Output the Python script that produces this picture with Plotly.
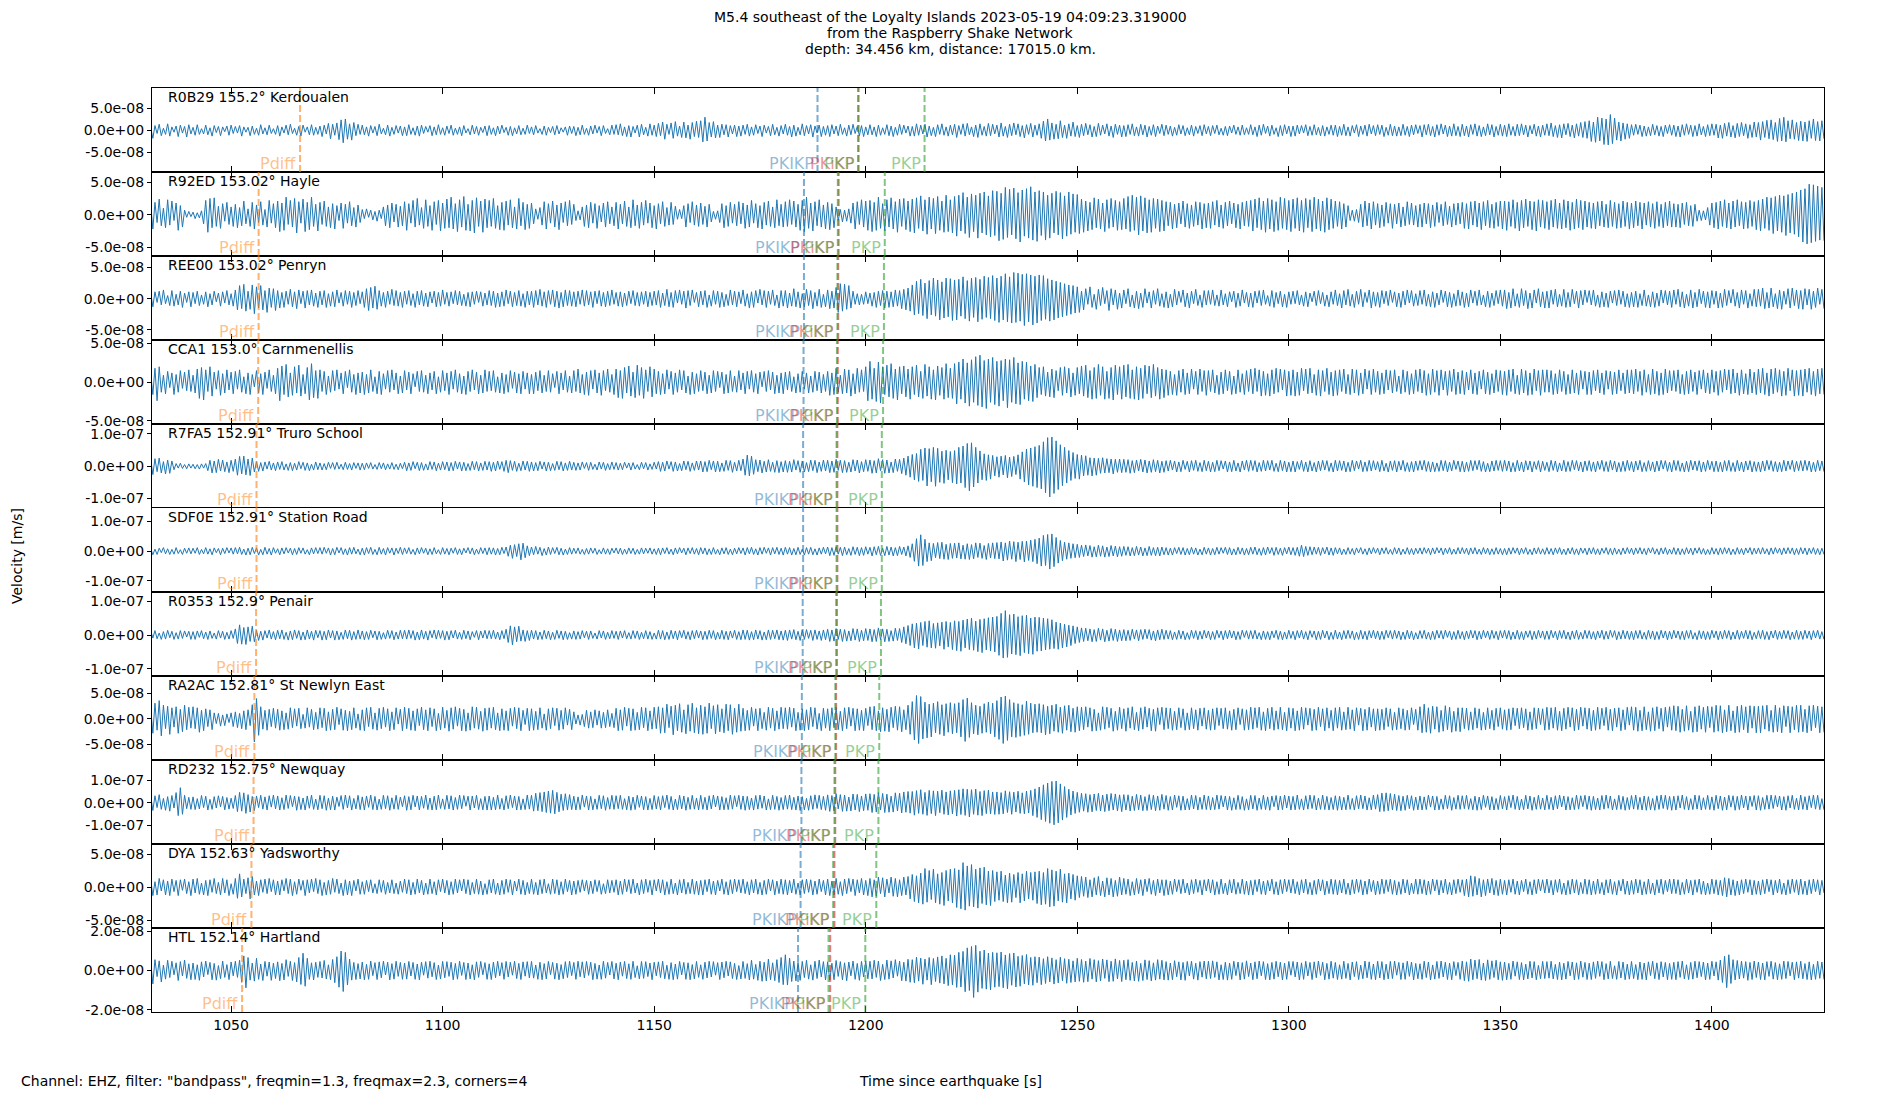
import numpy as np
import plotly.graph_objects as go
from plotly.subplots import make_subplots

# ---------------- data: velocity extrema, every 0.5 s ----------------
T_START = 1031.0   # s since earthquake of the first listed extremum
DT = 0.5           # s between listed extrema

STATIONS = [
    "R0B29 155.2° Kerdoualen", "R92ED 153.02° Hayle", "REE00 153.02° Penryn",
    "CCA1 153.0° Carnmenellis", "R7FA5 152.91° Truro School", "SDF0E 152.91° Station Road",
    "R0353 152.9° Penair", "RA2AC 152.81° St Newlyn East", "RD232 152.75° Newquay",
    "DYA 152.63° Yadsworthy", "HTL 152.14° Hartland",
]

# nm/s
R0B29 = [6,-18,11,-7,14,-12,5,-9,15,-13,8,-4,10,-14,12,-6,9,-15,13,-8,
7,-11,13,-9,4,-8,12,-10,6,-13,11,-5,9,-12,8,-3,10,-11,12,-7,
9,-6,11,-13,8,-4,7,-12,10,-9,5,-11,13,-8,6,-10,12,-7,4,-9,
11,-13,8,-6,12,-10,14,-7,5,-11,9,-13,12,-4,8,-10,13,-11,7,-9,
10,-14,12,-8,16,-19,14,-11,17,-21,24,-28,26,-20,15,-22,18,-12,14,-9,
12,-10,8,-13,11,-6,9,-12,14,-8,5,-10,12,-13,7,-9,11,-6,10,-12,
8,-12,13,-9,6,-11,10,-13,12,-7,9,-4,11,-12,8,-10,13,-9,6,-11,
10,-7,12,-11,5,-9,8,-12,11,-6,4,-10,12,-8,9,-11,7,-5,10,-12,
11,-9,6,-12,10,-8,12,-5,7,-11,9,-12,6,-8,11,-10,5,-9,12,-7,
8,-10,11,-6,4,-9,10,-11,7,-5,9,-10,11,-8,6,-4,8,-11,10,-7,
9,-12,7,-10,12,-9,5,-11,10,-8,12,-6,9,-12,11,-7,4,-10,12,-9,
13,-10,15,-12,8,-14,11,-15,9,-6,12,-15,14,-10,7,-13,15,-11,12,-14,
16,-12,19,-20,14,-9,17,-18,20,-13,10,-16,19,-17,12,-20,18,-14,21,-16,
22,-26,30,-24,18,-15,20,-17,12,-16,14,-10,13,-15,11,-8,12,-14,10,-13,
12,-9,14,-13,8,-11,13,-7,10,-14,12,-6,9,-12,14,-10,7,-13,11,-8,
14,-11,9,-15,12,-13,7,-10,15,-12,11,-8,13,-15,10,-6,12,-14,9,-11,
11,-14,13,-8,10,-12,14,-9,6,-13,12,-10,14,-7,9,-12,11,-14,8,-10,
13,-10,8,-14,12,-11,6,-9,13,-12,10,-14,7,-11,14,-9,12,-6,10,-13,
9,-13,15,-11,12,-8,14,-15,10,-12,7,-14,13,-9,15,-11,8,-13,12,-10,
14,-16,11,-9,15,-13,16,-10,8,-14,12,-16,15,-11,9,-13,16,-12,14,-8,
12,-15,17,-13,9,-16,14,-12,17,-10,15,-14,11,-17,13,-9,16,-15,12,-11,
15,-18,21,-24,26,-22,17,-20,14,-19,22,-16,12,-18,15,-13,19,-14,11,-16,
14,-12,16,-10,13,-15,9,-14,16,-11,12,-8,15,-13,10,-16,14,-9,12,-15,
11,-14,13,-9,15,-12,8,-13,14,-10,12,-15,9,-11,13,-14,10,-7,14,-12,
12,-9,10,-13,7,-11,13,-8,11,-12,6,-10,12,-13,9,-7,11,-12,13,-8,
9,-12,11,-7,12,-10,5,-11,9,-12,10,-6,12,-9,8,-11,12,-10,6,-9,
13,-10,8,-14,12,-11,14,-7,10,-13,12,-9,6,-14,11,-12,13,-8,10,-14,
10,-13,12,-8,11,-6,13,-12,9,-11,13,-10,7,-12,11,-13,8,-9,12,-11,
12,-14,9,-11,14,-12,8,-13,11,-6,13,-14,10,-9,12,-13,14,-8,11,-12,
13,-9,12,-14,7,-11,14,-12,10,-13,8,-12,14,-11,9,-14,12,-10,13,-7,
11,-15,13,-10,14,-12,9,-15,13,-11,15,-8,12,-14,10,-13,15,-12,9,-14,
14,-12,10,-15,13,-9,15,-13,11,-14,8,-12,15,-10,13,-15,9,-11,14,-13,
12,-14,15,-11,9,-13,14,-12,15,-10,12,-15,11,-8,14,-13,10,-15,12,-11,
15,-12,17,-14,11,-16,13,-17,15,-10,16,-14,12,-17,15,-13,18,-16,20,-18,
22,-25,19,-27,30,-24,28,-32,26,-33,36,-30,28,-22,19,-24,17,-20,15,-18,
13,-11,14,-9,12,-14,10,-13,8,-12,14,-10,11,-13,9,-14,12,-7,13,-11,
12,-14,10,-15,13,-11,15,-9,12,-14,11,-13,15,-10,9,-14,13,-12,15,-11,
14,-17,12,-18,16,-13,18,-15,11,-17,16,-14,18,-12,15,-18,13,-16,19,-15,
18,-22,20,-16,23,-19,24,-21,18,-25,27,-24,30,-26,22,-19,24,-20,18,-23,
21,-24,19,-25,22,-18,26,-23,20,-24,22,-19]

R92ED = [15,-22,19,-12,24,-17,10,-20,23,-16,21,-9,18,-24,14,-19,7,-4,5,-3,
4,-6,3,-5,6,-14,22,-27,25,-20,26,-18,13,-21,17,-10,19,-15,12,-18,
16,-20,11,-17,21,-14,9,-18,19,-22,15,-12,20,-16,8,-19,22,-13,17,-20,
21,-26,18,-24,27,-15,22,-19,25,-28,20,-13,24,-26,19,-23,27,-18,16,-25,
19,-15,21,-18,12,-20,17,-22,14,-9,18,-21,16,-13,20,-17,11,-19,15,-12,
8,-6,9,-4,7,-8,5,-10,7,-6,12,-17,15,-20,18,-11,16,-19,13,-17,
20,-24,17,-13,22,-19,25,-16,11,-21,23,-18,14,-24,20,-15,22,-25,18,-21,
24,-20,27,-22,17,-26,23,-19,28,-24,16,-25,22,-28,26,-18,21,-27,24,-20,
22,-18,25,-21,14,-23,19,-24,21,-16,23,-20,12,-22,25,-17,19,-23,16,-21,
18,-14,9,-7,11,-16,20,-22,17,-13,21,-19,15,-23,18,-12,20,-17,22,-15,
16,-9,6,-8,12,-18,15,-20,19,-13,17,-21,14,-11,18,-19,20,-14,12,-17,
19,-22,16,-14,21,-18,12,-20,23,-17,15,-21,19,-16,22,-13,18,-20,14,-22,
17,-14,20,-18,11,-16,19,-15,13,-7,8,-6,14,-19,17,-12,20,-16,15,-18,
18,-15,13,-19,16,-11,5,-7,6,-12,17,-20,14,-18,19,-13,16,-17,20,-14,
18,-21,15,-19,22,-13,17,-20,14,-22,19,-16,21,-18,12,-20,23,-17,16,-19,
20,-18,23,-15,21,-19,16,-24,22,-26,27,-21,18,-25,20,-17,23,-19,15,-22,
19,-23,17,-20,12,-9,8,-11,7,-10,9,-13,18,-22,20,-15,23,-19,21,-24,
22,-26,19,-24,27,-21,17,-25,23,-19,26,-22,20,-27,24,-18,25,-23,21,-26,
24,-28,26,-21,29,-25,23,-30,27,-22,25,-29,28,-24,21,-27,30,-26,23,-28,
28,-33,30,-25,34,-29,27,-35,32,-26,30,-36,33,-28,35,-31,29,-34,37,-32,
36,-40,33,-38,42,-35,39,-31,41,-37,34,-42,38,-33,40,-36,43,-39,35,-41,
37,-32,35,-39,30,-36,33,-28,36,-31,34,-37,29,-33,35,-30,32,-27,31,-29,
24,-27,21,-25,19,-23,26,-20,24,-22,18,-26,23,-21,25,-19,22,-24,20,-23,
25,-22,28,-26,30,-24,27,-31,29,-25,26,-28,23,-27,25,-21,24,-26,22,-25,
20,-17,19,-22,16,-20,18,-14,21,-19,17,-21,15,-18,20,-16,19,-22,17,-20,
18,-21,20,-16,22,-19,15,-21,19,-17,21,-14,18,-20,16,-22,19,-17,21,-18,
22,-25,24,-20,26,-23,21,-27,25,-22,23,-26,20,-24,27,-21,25,-23,22,-26,
24,-21,26,-25,22,-27,25,-20,23,-26,27,-22,24,-25,21,-27,26,-23,24,-21,
21,-18,20,-22,17,-19,14,-9,7,-10,8,-12,16,-19,21,-17,18,-22,20,-16,
17,-20,15,-18,19,-13,17,-21,16,-14,18,-19,12,-17,20,-15,18,-16,14,-19,
16,-19,18,-14,17,-20,15,-18,19,-12,16,-17,20,-15,13,-19,17,-16,18,-14,
19,-21,17,-22,20,-16,21,-19,18,-23,20,-17,22,-20,16,-21,19,-18,21,-22,
21,-24,20,-18,23,-21,19,-25,22,-20,24,-18,21,-23,20,-25,23,-19,22,-21,
20,-23,22,-19,24,-21,18,-22,23,-20,21,-24,19,-22,24,-20,22,-23,21,-19,
19,-21,18,-22,20,-17,21,-19,16,-20,22,-18,19,-21,17,-20,21,-18,19,-22,
18,-20,21,-17,19,-22,18,-16,20,-19,17,-21,20,-18,16,-20,19,-17,21,-19,
17,-19,16,-20,18,-15,19,-17,14,-18,16,-10,7,-9,6,-8,11,-16,18,-20,
19,-22,21,-18,23,-20,18,-22,21,-19,23,-17,20,-22,19,-21,22,-18,20,-23,
22,-25,24,-21,27,-24,26,-29,28,-25,30,-27,29,-32,31,-28,33,-30,35,-34,
38,-42,40,-45,47,-43,46,-41,44,-39,42,-40]

REE00 = [9,-13,11,-6,12,-10,14,-8,5,-11,13,-12,7,-10,12,-14,9,-6,11,-13,
10,-8,12,-11,6,-9,11,-13,8,-10,12,-5,9,-12,11,-7,13,-10,8,-12,
14,-18,21,-16,23,-20,12,-17,22,-24,19,-15,21,-18,13,-22,17,-14,16,-19,
13,-15,10,-14,12,-9,15,-13,11,-16,14,-8,12,-15,13,-10,14,-12,9,-14,
12,-10,13,-14,8,-12,11,-13,14,-7,10,-12,13,-9,12,-14,10,-11,13,-8,
11,-14,16,-19,18,-15,20,-17,13,-12,10,-14,12,-9,15,-11,13,-12,10,-14,
12,-9,13,-11,8,-14,12,-10,13,-12,9,-13,11,-7,12,-13,10,-12,14,-9,
10,-12,11,-8,13,-10,12,-11,7,-12,10,-13,11,-9,12,-6,11,-12,9,-10,
13,-11,12,-14,9,-13,11,-12,14,-8,12,-13,10,-11,13,-12,8,-14,12,-10,
12,-14,13,-10,15,-12,11,-14,13,-9,14,-13,12,-15,10,-13,14,-11,13,-12,
11,-13,12,-9,14,-12,13,-10,11,-14,12,-8,13,-12,10,-13,12,-11,14,-9,
10,-12,11,-13,9,-11,12,-8,13,-11,10,-12,11,-9,12,-13,10,-11,12,-10,
13,-14,9,-11,15,-13,10,-14,13,-7,14,-9,12,-15,13,-11,14,-6,10,-13,
12,-10,13,-14,6,-12,13,-9,12,-14,10,-13,7,-11,14,-10,12,-13,11,-8,
14,-12,8,-15,11,-14,13,-7,15,-10,13,-14,12,-9,14,-11,6,-15,13,-12,
13,-15,9,-12,16,-13,11,-15,8,-13,15,-11,13,-16,10,-12,15,-14,7,-13,
14,-16,12,-15,18,-22,24,-20,23,-17,21,-15,12,-9,8,-10,7,-9,11,-8,
9,-12,10,-14,12,-11,13,-15,12,-14,11,-13,14,-12,13,-16,15,-18,17,-20,
22,-26,28,-24,31,-27,25,-32,29,-26,33,-28,30,-34,27,-31,33,-29,32,-35,
30,-34,31,-28,35,-32,29,-36,33,-30,34,-37,31,-33,36,-30,34,-32,37,-35,
33,-38,36,-34,40,-37,35,-39,42,-38,41,-36,39,-43,40,-37,38,-42,36,-39,
38,-35,37,-33,32,-36,30,-34,28,-31,26,-29,24,-27,22,-25,21,-23,19,-22,
12,-18,16,-9,19,-14,7,-17,15,-11,18,-8,13,-19,16,-10,14,-17,9,-15,
14,-8,16,-13,6,-15,12,-16,9,-14,16,-7,11,-15,13,-9,16,-12,8,-14,
11,-15,7,-13,15,-10,12,-6,14,-13,9,-15,12,-8,15,-11,6,-14,13,-10,
13,-9,14,-11,6,-12,14,-10,8,-13,11,-5,12,-14,9,-12,14,-7,10,-13,
9,-14,12,-7,13,-11,14,-9,5,-12,13,-14,10,-8,12,-13,7,-14,11,-9,
12,-8,13,-10,6,-12,11,-13,9,-5,12,-11,13,-8,10,-12,6,-13,11,-9,
14,-11,8,-15,13,-10,15,-12,7,-14,12,-9,15,-13,10,-6,14,-15,11,-12,
10,-14,13,-8,12,-11,14,-6,11,-13,9,-14,12,-10,14,-7,13,-12,8,-11,
13,-9,14,-12,7,-13,11,-14,9,-10,14,-6,12,-13,10,-14,8,-12,14,-11,
11,-14,9,-13,14,-7,12,-11,14,-10,6,-13,12,-14,9,-11,13,-8,14,-12,
14,-16,10,-15,16,-12,8,-14,16,-11,13,-16,9,-15,14,-7,16,-13,11,-15,
12,-15,14,-9,15,-13,7,-12,15,-14,10,-13,15,-8,12,-15,13,-10,14,-6,
13,-10,14,-12,6,-14,11,-13,9,-14,12,-7,13,-11,14,-9,12,-13,8,-14,
10,-13,12,-14,8,-11,14,-12,6,-13,11,-14,9,-12,14,-7,13,-10,12,-14,
14,-9,15,-13,11,-15,7,-12,14,-15,10,-13,15,-8,12,-14,11,-15,13,-9,
12,-15,9,-14,15,-11,13,-7,15,-12,10,-15,14,-9,13,-15,8,-12,15,-13,
15,-12,17,-16,10,-15,17,-13,8,-16,14,-17,12,-9,16,-15,17,-11,14,-16,
13,-17,16,-10,15,-17,12,-14,17,-9,15,-16]

CCA1 = [11,-16,18,-24,20,-13,9,-15,14,-7,12,-16,10,-13,15,-8,13,-11,16,-12,
9,-14,17,-21,19,-23,16,-12,20,-18,13,-9,15,-17,11,-14,16,-10,13,-15,
14,-9,16,-13,7,-15,12,-16,10,-6,15,-14,11,-16,13,-8,16,-12,9,-15,
18,-24,21,-16,23,-19,12,-17,20,-14,22,-18,10,-15,19,-23,24,-20,15,-21,
16,-12,14,-16,8,-13,15,-11,16,-9,12,-15,14,-7,16,-13,10,-16,12,-14,
13,-16,10,-14,16,-12,7,-15,14,-16,11,-9,15,-13,16,-10,12,-15,8,-14,
15,-10,13,-15,11,-6,14,-12,15,-13,9,-15,12,-10,14,-15,7,-13,15,-11,
12,-16,14,-9,16,-13,11,-15,8,-16,14,-12,16,-10,13,-15,9,-14,16,-12,
14,-11,15,-13,7,-14,12,-15,10,-13,15,-8,13,-14,11,-15,14,-9,12,-15,
10,-15,13,-11,15,-14,9,-12,15,-13,11,-7,14,-15,12,-10,15,-13,8,-14,
15,-12,17,-14,10,-16,13,-17,15,-9,16,-14,12,-17,15,-11,17,-13,10,-16,
17,-20,15,-21,19,-14,21,-18,13,-20,22,-17,19,-21,16,-12,20,-19,17,-15,
14,-16,11,-15,16,-9,14,-16,12,-13,16,-10,15,-14,8,-16,13,-15,11,-12,
15,-11,13,-15,9,-14,15,-12,14,-7,13,-15,10,-14,15,-12,8,-13,15,-10,
12,-15,14,-9,15,-13,11,-15,13,-6,14,-12,15,-10,13,-15,9,-14,12,-15,
13,-10,14,-12,7,-14,11,-13,14,-9,12,-14,8,-13,14,-11,13,-14,10,-12,
14,-17,12,-16,18,-13,9,-15,17,-14,16,-18,11,-15,18,-13,16,-12,20,-24,
27,-22,18,-25,26,-27,20,-16,22,-19,24,-21,17,-23,20,-15,21,-19,17,-22,
20,-16,22,-19,14,-21,23,-18,20,-22,16,-23,21,-17,19,-22,24,-20,18,-21,
24,-28,26,-22,30,-27,25,-31,29,-26,33,-30,35,-32,28,-34,30,-26,32,-29,
27,-31,28,-24,30,-33,29,-26,32,-28,25,-29,27,-22,26,-24,21,-25,23,-20,
19,-16,20,-18,13,-19,17,-20,15,-11,19,-17,20,-14,18,-19,12,-17,19,-15,
21,-18,22,-20,15,-22,19,-21,23,-17,20,-22,14,-21,19,-23,22,-16,20,-22,
22,-19,23,-21,16,-22,20,-23,18,-21,22,-15,21,-20,23,-18,19,-22,17,-20,
16,-17,14,-16,10,-17,15,-13,17,-16,12,-15,17,-9,14,-16,17,-12,15,-17,
15,-12,16,-14,9,-16,13,-15,16,-11,14,-16,8,-15,16,-13,11,-16,15,-12,
17,-15,18,-12,16,-18,14,-17,11,-18,16,-15,18,-13,17,-10,16,-18,14,-17,
16,-18,13,-17,18,-11,17,-15,18,-14,10,-17,16,-18,15,-12,18,-16,13,-18,
15,-17,16,-12,17,-15,10,-16,17,-14,16,-17,12,-15,17,-9,15,-16,17,-13,
14,-16,12,-15,16,-10,15,-14,16,-12,8,-15,16,-13,14,-16,11,-15,16,-12,
17,-14,15,-17,11,-16,17,-13,15,-17,16,-10,14,-17,15,-12,17,-16,13,-15,
15,-16,13,-10,16,-15,12,-16,14,-9,16,-15,13,-16,11,-14,16,-12,15,-16,
14,-17,16,-12,17,-15,9,-16,17,-14,15,-17,12,-16,17,-11,15,-17,16,-13,
16,-13,15,-16,11,-15,16,-12,14,-16,10,-15,16,-14,12,-16,15,-9,14,-16,
13,-16,15,-11,16,-14,12,-16,15,-9,14,-16,13,-15,16,-11,12,-15,16,-14,
16,-15,17,-12,14,-17,16,-13,10,-16,17,-15,14,-17,12,-16,17,-14,15,-11,
15,-12,16,-15,10,-16,14,-15,16,-12,13,-16,15,-9,16,-14,12,-15,16,-13,
14,-17,15,-13,17,-10,16,-15,17,-14,12,-17,16,-15,11,-16,17,-14,13,-16,
17,-14,18,-16,12,-18,17,-15,18,-13,16,-18,14,-17,18,-11,16,-18,15,-17,
16,-18,17,-13,18,-16,14,-18,17,-15,18,-16]

R7FA5 = [20,-26,23,-17,25,-21,14,-24,19,-22,16,-11,8,-6,9,-7,5,-8,7,-6,
6,-8,5,-9,7,-6,8,-14,18,-21,16,-20,21,-15,19,-17,13,-20,18,-16,
22,-28,30,-24,31,-27,22,-29,25,-18,14,-16,11,-15,13,-9,15,-12,10,-14,
13,-10,14,-12,7,-13,11,-14,9,-12,14,-8,12,-13,10,-14,6,-12,13,-11,
10,-12,8,-11,12,-7,11,-10,12,-9,6,-11,12,-10,8,-12,11,-7,10,-12,
9,-11,10,-7,11,-9,5,-10,11,-8,10,-11,7,-9,11,-10,6,-11,9,-8,
12,-14,10,-13,14,-8,12,-14,11,-13,7,-12,14,-10,13,-14,9,-12,14,-11,
13,-15,11,-14,15,-9,13,-15,12,-14,8,-13,15,-11,14,-15,10,-13,15,-12,
14,-16,12,-15,16,-10,14,-16,18,-20,17,-13,15,-16,9,-14,16,-12,15,-16,
13,-15,11,-14,15,-9,13,-15,12,-14,8,-13,15,-11,14,-15,10,-13,15,-12,
12,-13,10,-12,13,-7,11,-13,12,-10,6,-12,13,-9,12,-13,8,-11,13,-10,
11,-12,9,-11,12,-6,10,-12,11,-9,5,-11,12,-8,11,-12,7,-10,12,-9,
14,-16,12,-15,16,-9,14,-16,13,-15,8,-14,16,-11,15,-16,10,-13,16,-12,
16,-18,14,-17,18,-11,16,-18,15,-17,10,-16,18,-13,17,-19,12,-15,18,-14,
22,-28,34,-30,31,-25,20,-17,19,-21,15,-18,20,-16,12,-19,17,-20,14,-18,
17,-19,15,-18,20,-12,17,-19,16,-18,11,-17,19,-14,18,-20,13,-16,19,-15,
18,-20,16,-19,21,-13,18,-20,17,-19,12,-18,20,-15,19,-21,14,-17,20,-16,
19,-22,17,-21,23,-14,20,-22,19,-21,13,-20,22,-16,21,-23,25,-28,31,-34,
36,-42,39,-47,52,-44,56,-61,54,-48,58,-62,55,-50,46,-53,49,-42,45,-51,
48,-55,58,-52,62,-66,70,-76,72,-64,58,-52,47,-42,38,-44,35,-40,33,-30,
29,-34,31,-27,33,-36,28,-32,30,-26,35,-40,44,-49,53,-58,56,-62,60,-66,
64,-70,75,-82,88,-95,90,-84,78,-72,66,-60,58,-52,48,-44,42,-38,36,-40,
34,-30,32,-28,26,-30,25,-28,24,-22,26,-21,23,-20,22,-24,21,-19,22,-20,
21,-19,20,-22,17,-20,19,-15,21,-18,19,-21,16,-19,20,-17,18,-21,15,-19,
17,-15,18,-12,16,-18,13,-17,18,-10,15,-18,17,-13,18,-16,11,-17,18,-14,
15,-18,12,-17,18,-14,17,-9,16,-18,13,-17,18,-15,10,-18,16,-12,18,-16,
18,-13,17,-18,11,-16,18,-15,17,-12,18,-16,9,-17,18,-14,16,-18,12,-17,
16,-18,14,-10,18,-16,13,-18,17,-15,11,-18,16,-14,18,-12,17,-16,10,-18,
18,-15,17,-13,16,-18,12,-17,18,-14,16,-9,18,-17,13,-16,18,-15,17,-12,
14,-17,18,-15,9,-18,16,-13,17,-18,15,-12,18,-16,11,-17,14,-18,16,-13,
17,-12,18,-16,14,-18,13,-17,10,-16,18,-14,17,-18,12,-15,18,-10,16,-17,
15,-18,12,-16,18,-14,17,-11,18,-16,14,-18,9,-17,16,-15,18,-13,17,-16,
18,-14,16,-18,11,-17,18,-15,13,-18,17,-12,16,-18,14,-10,17,-18,15,-13,
12,-17,18,-13,16,-18,10,-15,18,-17,14,-16,18,-11,17,-15,13,-18,16,-14,
17,-16,13,-18,15,-10,18,-16,14,-17,18,-12,16,-18,11,-17,15,-16,18,-13,
14,-18,16,-12,18,-17,11,-16,17,-14,13,-18,16,-15,18,-9,17,-16,12,-18,
18,-13,17,-16,10,-18,15,-17,18,-12,16,-14,17,-18,13,-16,18,-11,15,-17,
16,-17,12,-18,17,-14,18,-16,11,-17,18,-15,13,-18,16,-12,17,-18,14,-16,
13,-18,16,-15,18,-11,17,-16,14,-18,12,-17,18,-15,16,-10,18,-17,15,-14,
17,-15,18,-13,16,-18,12,-17,18,-14,16,-17]

SDF0E = [9,-12,7,-11,10,-5,12,-9,8,-11,6,-10,12,-8,5,-11,10,-7,11,-9,
10,-7,12,-11,6,-9,12,-10,8,-12,11,-5,9,-12,10,-8,12,-6,11,-10,
12,-9,13,-11,7,-13,10,-12,13,-8,11,-13,6,-12,13,-10,9,-13,12,-7,
8,-12,11,-9,12,-6,10,-12,9,-11,12,-7,11,-10,5,-12,11,-9,12,-8,
12,-10,13,-7,11,-13,9,-12,13,-6,12,-11,8,-13,12,-10,13,-9,7,-12,
10,-13,12,-8,13,-11,6,-12,13,-10,9,-13,12,-7,11,-13,10,-8,13,-11,
11,-8,12,-10,6,-12,11,-9,12,-7,10,-12,8,-11,12,-9,5,-11,12,-10,
9,-12,10,-7,12,-11,8,-12,10,-6,12,-9,11,-12,7,-10,12,-8,11,-12,
12,-10,11,-13,9,-12,13,-8,14,-17,20,-24,22,-18,25,-29,27,-22,18,-15,
14,-12,16,-10,13,-15,9,-13,14,-11,12,-8,13,-12,10,-13,7,-11,12,-10,
10,-8,11,-10,6,-11,9,-10,11,-7,10,-11,5,-9,11,-10,8,-11,10,-6,
11,-9,10,-11,7,-10,11,-8,10,-11,6,-10,11,-9,10,-7,11,-10,8,-11,
10,-12,11,-8,12,-10,7,-12,11,-9,12,-6,10,-12,11,-8,12,-10,9,-12,
12,-9,11,-12,8,-11,12,-10,6,-12,11,-9,12,-11,7,-12,10,-9,12,-8,
11,-13,12,-9,13,-11,8,-13,12,-10,13,-7,11,-13,12,-9,13,-11,10,-13,
13,-10,12,-13,9,-12,13,-11,7,-13,12,-10,13,-12,8,-13,11,-10,13,-9,
14,-15,12,-14,15,-10,13,-15,14,-12,9,-14,15,-11,13,-15,12,-14,15,-10,
13,-16,15,-12,16,-14,10,-15,16,-13,14,-16,12,-15,16,-11,14,-16,18,-21,
25,-34,42,-50,55,-48,40,-35,28,-32,26,-22,29,-25,30,-27,23,-28,26,-24,
27,-23,28,-26,20,-27,25,-28,22,-26,28,-21,27,-24,19,-28,26,-23,28,-25,
29,-26,31,-33,28,-30,34,-27,32,-35,30,-28,33,-36,34,-31,37,-35,40,-42,
44,-50,53,-48,56,-60,58,-52,46,-40,36,-32,30,-27,28,-24,25,-22,23,-21,
20,-18,21,-16,19,-20,15,-19,20,-17,18,-20,14,-18,19,-16,17,-19,15,-17,
16,-14,15,-16,12,-15,16,-13,14,-16,11,-15,16,-14,12,-15,13,-16,14,-12,
12,-13,10,-13,12,-8,13,-11,12,-13,9,-12,13,-10,11,-13,7,-12,13,-10,
11,-13,9,-12,13,-10,12,-7,13,-11,12,-13,8,-12,13,-10,11,-13,9,-12,
13,-10,14,-12,9,-14,12,-13,14,-8,12,-14,13,-11,10,-14,12,-9,14,-12,
12,-14,13,-17,20,-18,16,-14,15,-12,14,-10,13,-14,12,-9,14,-13,11,-14,
12,-9,11,-12,7,-11,12,-10,9,-12,11,-6,12,-10,8,-12,11,-9,12,-7,
10,-12,11,-8,12,-10,6,-11,12,-9,11,-12,7,-10,12,-11,9,-12,10,-8,
11,-10,12,-7,10,-12,11,-9,12,-6,11,-12,10,-8,12,-11,7,-10,12,-9,
12,-8,10,-12,11,-9,12,-10,7,-11,12,-9,10,-12,8,-11,12,-10,9,-12,
9,-12,11,-10,12,-7,11,-12,10,-8,12,-11,6,-12,11,-9,12,-10,8,-11,
12,-10,9,-12,11,-8,12,-11,7,-12,10,-9,12,-11,8,-12,11,-7,10,-12,
11,-9,12,-11,8,-12,10,-7,12,-11,9,-12,11,-10,7,-12,11,-9,12,-8,
10,-12,11,-8,12,-10,9,-12,11,-6,12,-10,8,-12,11,-9,12,-11,7,-10,
12,-11,10,-12,8,-11,12,-9,10,-12,11,-7,12,-10,9,-12,6,-11,12,-10,
9,-12,11,-10,12,-8,11,-12,7,-11,12,-10,9,-12,11,-6,12,-11,10,-9,
11,-10,12,-9,8,-12,11,-10,12,-7,10,-12,11,-9,12,-8,11,-12,9,-11,
12,-9,11,-12,10,-8,12,-11,9,-12,10,-11]

R0353 = [12,-9,13,-11,6,-13,10,-12,14,-8,11,-13,7,-12,13,-10,12,-6,11,-13,
10,-13,12,-7,13,-11,9,-13,12,-10,6,-12,13,-9,11,-13,8,-12,13,-10,
18,-25,30,-27,22,-28,24,-19,26,-20,14,-16,11,-15,13,-9,15,-12,10,-14,
14,-11,15,-13,8,-15,12,-14,15,-10,13,-15,9,-14,15,-12,11,-15,14,-8,
13,-15,11,-14,15,-9,13,-15,12,-14,8,-13,15,-11,14,-15,10,-13,15,-12,
12,-14,10,-13,14,-8,12,-14,11,-13,7,-12,14,-10,13,-14,9,-12,14,-11,
14,-12,15,-10,13,-15,9,-14,15,-12,11,-15,13,-8,15,-12,14,-10,13,-15,
11,-14,13,-9,14,-12,8,-13,14,-11,12,-14,10,-7,13,-14,12,-9,14,-11,
13,-11,14,-12,9,-14,13,-11,17,-22,27,-29,24,-20,26,-18,15,-19,13,-16,
14,-12,13,-14,9,-13,14,-11,12,-14,8,-13,14,-10,12,-14,11,-13,7,-12,
12,-13,10,-12,13,-8,11,-13,12,-10,6,-12,13,-9,12,-13,8,-11,13,-10,
11,-13,12,-9,13,-11,7,-12,13,-10,12,-13,8,-11,13,-12,10,-13,6,-12,
14,-12,13,-14,9,-13,14,-11,12,-14,13,-8,14,-12,10,-14,13,-11,14,-9,
12,-14,11,-13,14,-10,13,-14,8,-12,14,-13,11,-14,12,-9,14,-13,10,-14,
15,-13,14,-15,10,-14,15,-12,13,-15,9,-14,15,-13,14,-11,15,-14,12,-15,
14,-16,15,-12,16,-14,11,-16,15,-13,16,-10,14,-16,15,-13,12,-16,15,-14,
17,-19,15,-18,19,-13,17,-19,16,-18,12,-17,19,-15,18,-19,14,-17,19,-16,
18,-20,16,-19,21,-14,18,-20,17,-19,13,-18,20,-16,19,-22,24,-26,28,-31,
33,-38,35,-41,37,-31,40,-36,42,-38,34,-39,36,-32,38,-42,40,-35,37,-43,
42,-46,40,-48,44,-38,47,-43,50,-45,41,-49,46,-52,48,-44,51,-47,53,-50,
55,-60,64,-68,72,-66,60,-56,62,-58,54,-61,57,-52,59,-55,50,-57,53,-48,
52,-47,50,-44,48,-42,45,-40,38,-42,35,-38,32,-35,29,-31,27,-25,24,-22,
21,-19,20,-17,18,-20,16,-19,20,-15,18,-20,14,-18,19,-16,17,-19,15,-17,
16,-17,14,-16,17,-12,15,-17,16,-13,17,-11,16,-15,12,-17,15,-14,17,-13,
14,-12,13,-14,9,-13,14,-11,12,-14,7,-13,14,-10,13,-14,11,-12,14,-9,
12,-14,10,-13,14,-8,12,-14,13,-11,14,-9,12,-14,10,-13,14,-7,13,-12,
13,-11,14,-12,7,-14,12,-13,10,-14,12,-8,14,-13,11,-14,9,-12,14,-10,
11,-14,13,-9,14,-12,10,-14,13,-7,12,-14,11,-13,14,-9,12,-14,8,-13,
14,-12,9,-14,13,-11,14,-10,12,-14,8,-13,14,-12,11,-14,13,-9,14,-11,
12,-14,11,-13,14,-8,13,-12,14,-10,12,-14,9,-13,14,-11,12,-14,7,-12,
13,-10,14,-12,8,-14,11,-13,14,-9,13,-12,14,-7,12,-14,10,-13,14,-11,
10,-14,12,-11,14,-9,13,-14,11,-12,14,-8,12,-13,14,-10,11,-14,13,-9,
14,-11,13,-14,9,-12,14,-13,10,-14,12,-7,13,-14,11,-12,14,-9,12,-13,
12,-13,14,-8,11,-14,13,-10,14,-12,9,-14,12,-11,14,-13,8,-12,14,-10,
13,-12,10,-14,12,-9,14,-13,11,-12,14,-7,13,-14,10,-12,14,-11,12,-13,
11,-14,13,-10,14,-12,8,-13,14,-11,12,-14,10,-13,14,-9,12,-14,11,-12,
14,-9,12,-13,11,-14,13,-10,14,-12,7,-14,13,-11,12,-14,10,-13,14,-8,
12,-14,11,-12,14,-10,13,-14,9,-12,14,-13,11,-10,14,-12,13,-14,8,-11,
13,-11,14,-13,10,-14,12,-9,14,-13,11,-12,14,-10,13,-14,9,-12,14,-13,
11,-13,14,-10,12,-14,13,-9,14,-12,10,-13]

RA2AC = [20,-28,31,-22,36,-33,27,-19,25,-30,22,-16,24,-28,19,-25,27,-21,23,-18,
24,-19,22,-26,17,-23,20,-15,18,-21,12,-9,11,-14,8,-13,10,-7,12,-15,
14,-17,11,-19,16,-21,18,-13,28,-45,40,-32,24,-20,17,-22,19,-15,21,-18,
19,-22,16,-21,12,-20,22,-17,20,-14,21,-19,9,-18,22,-16,19,-21,13,-20,
22,-17,21,-23,14,-22,19,-21,23,-11,20,-22,17,-23,15,-21,22,-18,10,-22,
18,-23,22,-15,23,-20,12,-22,21,-19,23,-16,20,-23,14,-21,22,-10,19,-23,
23,-19,21,-22,16,-23,20,-13,23,-21,18,-23,22,-15,20,-23,11,-21,23,-18,
17,-24,22,-20,24,-14,21,-23,19,-24,12,-22,24,-18,23,-20,15,-24,21,-22,
22,-18,23,-21,12,-23,20,-22,16,-23,21,-14,23,-19,22,-23,17,-11,21,-23,
20,-22,15,-21,22,-18,10,-22,20,-19,22,-13,21,-22,17,-20,22,-12,19,-21,
14,-10,8,-12,9,-15,17,-18,14,-17,18,-12,16,-18,13,-17,18,-15,11,-17,
21,-23,18,-22,23,-14,21,-23,20,-22,13,-21,23,-17,22,-23,16,-20,23,-19,
24,-28,22,-27,29,-17,25,-31,27,-23,30,-26,18,-29,28,-24,31,-27,22,-29,
27,-30,24,-28,31,-19,26,-29,28,-25,20,-27,29,-23,28,-30,21,-26,29,-24,
21,-23,17,-22,23,-14,20,-23,21,-19,13,-22,23,-18,21,-23,16,-20,23,-19,
22,-20,23,-16,21,-23,13,-22,20,-23,18,-21,23,-15,22,-20,11,-23,21,-18,
20,-23,22,-17,23,-21,15,-23,22,-19,23,-14,21,-23,20,-22,17,-23,21,-13,
24,-21,25,-23,16,-25,22,-24,19,-25,23,-17,25,-22,24,-25,18,-21,27,-30,
34,-41,46,-48,44,-39,33,-37,29,-35,31,-27,34,-30,28,-33,30,-26,32,-29,
30,-27,32,-35,38,-44,41,-36,32,-29,27,-31,25,-28,30,-26,33,-29,31,-35,
36,-40,43,-48,45,-42,38,-35,32,-36,30,-34,28,-32,35,-30,31,-27,29,-26,
30,-27,28,-31,25,-29,27,-24,29,-26,23,-28,26,-22,27,-25,21,-26,24,-23,
23,-21,24,-16,22,-24,19,-23,12,-22,24,-20,23,-17,21,-24,15,-22,23,-19,
20,-24,22,-18,24,-21,13,-23,22,-20,24,-16,21,-23,19,-24,22,-11,23,-21,
22,-19,21,-22,15,-21,22,-17,20,-22,12,-21,22,-19,18,-22,21,-14,22,-20,
17,-22,20,-21,22,-13,21,-19,22,-20,16,-22,19,-21,22,-11,20,-22,18,-21,
23,-20,22,-17,23,-22,14,-23,21,-19,23,-22,16,-20,23,-21,13,-23,22,-18,
21,-23,16,-22,23,-20,22,-12,21,-23,19,-22,23,-15,20,-23,22,-18,17,-23,
22,-18,23,-22,14,-21,23,-20,18,-23,22,-12,21,-23,19,-22,23,-16,20,-23,
20,-22,19,-21,22,-15,20,-22,13,-21,22,-19,20,-22,17,-21,22,-11,19,-22,
24,-27,29,-26,22,-28,25,-20,24,-26,17,-24,26,-21,23,-26,15,-24,22,-25,
22,-19,21,-22,14,-21,22,-18,20,-22,13,-21,22,-19,17,-22,21,-15,22,-20,
18,-22,20,-21,22,-13,21,-19,22,-17,20,-22,14,-21,22,-19,21,-11,20,-22,
23,-21,22,-18,23,-22,15,-23,21,-20,23,-16,22,-23,19,-21,23,-14,22,-20,
21,-23,17,-22,23,-20,21,-13,23,-22,19,-23,21,-16,22,-23,18,-21,23,-12,
24,-22,23,-24,17,-23,24,-21,14,-24,22,-23,24,-19,21,-24,23,-16,24,-22,
26,-23,25,-26,19,-24,26,-22,15,-26,24,-25,26,-20,23,-26,25,-17,24,-26,
27,-24,26,-27,18,-25,27,-23,16,-27,25,-26,27,-21,24,-27,26,-18,25,-27,
25,-27,26,-20,27,-24,17,-26,27,-25,22,-27,26,-15,25,-27,24,-21,27,-26,
27,-25,19,-27,26,-23,27,-17,25,-27,24,-26]

RD232 = [28,-35,31,-22,36,-30,19,-34,27,-38,32,-24,45,-58,67,-52,33,-27,24,-30,
26,-31,18,-28,32,-22,29,-33,15,-30,27,-24,31,-19,28,-32,23,-29,20,-26,
32,-40,46,-38,44,-48,36,-42,28,-35,30,-22,33,-29,26,-33,31,-20,34,-28,
30,-33,22,-31,34,-26,32,-18,29,-34,27,-31,21,-33,30,-25,34,-30,16,-32,
33,-27,31,-34,20,-32,29,-33,25,-17,32,-30,34,-24,31,-33,19,-28,33,-31,
26,-33,30,-21,34,-31,28,-33,16,-30,33,-27,31,-34,22,-29,33,-30,25,-18,
31,-34,27,-32,33,-19,30,-33,28,-25,34,-31,21,-33,29,-32,34,-26,17,-30,
33,-28,31,-33,23,-30,34,-27,32,-16,29,-33,30,-24,33,-31,18,-32,28,-33,
30,-33,24,-32,34,-29,19,-33,31,-27,34,-22,30,-33,28,-32,17,-31,34,-29,
33,-38,42,-36,45,-40,48,-44,52,-47,55,-50,46,-41,38,-35,40,-33,36,-31,
29,-33,26,-31,34,-20,30,-33,28,-32,17,-30,33,-27,31,-34,23,-29,33,-30,
31,-27,33,-30,18,-32,29,-34,25,-31,33,-21,30,-32,27,-33,19,-31,32,-28,
27,-33,31,-22,34,-30,28,-33,16,-31,33,-28,30,-34,24,-30,33,-29,21,-32,
33,-30,24,-33,31,-28,34,-19,30,-33,27,-32,22,-31,34,-29,31,-18,33,-30,
30,-34,28,-31,21,-33,32,-29,34,-25,30,-33,17,-31,33,-30,28,-34,23,-31,
32,-29,34,-31,24,-33,30,-35,27,-32,19,-34,31,-30,35,-26,33,-31,28,-34,
35,-39,32,-37,40,-28,36,-39,34,-38,25,-37,39,-33,37,-40,30,-36,39,-34,
40,-44,37,-42,45,-33,41,-44,38,-43,29,-42,44,-37,42,-46,48,-43,50,-47,
50,-56,54,-48,58,-52,46,-57,55,-49,53,-58,51,-45,56,-52,48,-55,53,-50,
55,-60,58,-53,62,-57,60,-64,58,-52,61,-56,50,-58,54,-49,56,-51,48,-53,
48,-52,45,-50,53,-44,49,-52,47,-42,51,-48,44,-50,52,-46,55,-58,62,-66,
70,-76,80,-84,88,-92,95,-99,97,-90,84,-78,72,-66,60,-55,52,-48,46,-43,
42,-38,40,-43,36,-41,39,-35,42,-37,34,-40,38,-36,41,-33,39,-37,35,-40,
36,-33,35,-37,29,-35,37,-32,34,-36,27,-35,36,-31,33,-36,30,-34,37,-29,
32,-34,27,-33,34,-21,31,-34,29,-33,18,-32,34,-28,32,-33,24,-30,34,-31,
30,-33,23,-31,34,-29,32,-19,30,-33,28,-34,22,-31,33,-30,27,-34,17,-32,
33,-28,32,-34,21,-30,33,-31,26,-34,30,-18,32,-33,29,-31,34,-24,30,-33,
28,-32,34,-30,17,-33,31,-29,34,-26,32,-33,20,-30,34,-31,28,-33,23,-31,
31,-34,29,-33,24,-32,34,-30,19,-33,31,-28,34,-27,30,-33,22,-32,34,-29,
36,-40,43,-39,44,-36,41,-33,38,-35,32,-36,29,-34,33,-27,31,-34,25,-32,
30,-33,26,-31,34,-20,30,-33,28,-32,17,-30,33,-27,31,-34,23,-29,33,-30,
31,-27,33,-30,18,-32,29,-34,25,-31,33,-21,30,-32,27,-33,19,-31,32,-28,
27,-33,31,-22,34,-30,28,-33,16,-31,33,-28,30,-34,24,-30,33,-29,21,-32,
33,-30,24,-33,31,-28,34,-19,30,-33,27,-32,22,-31,34,-29,31,-18,33,-30,
30,-34,28,-31,21,-33,32,-29,34,-25,30,-33,17,-31,33,-30,28,-34,23,-31,
32,-29,34,-31,24,-33,30,-34,27,-32,19,-34,31,-30,34,-26,33,-31,28,-34,
29,-33,31,-24,34,-30,27,-33,18,-31,34,-29,32,-33,22,-30,33,-31,26,-34,
33,-27,30,-34,25,-32,33,-20,31,-34,28,-31,34,-23,30,-33,29,-17,32,-33,
31,-34,23,-30,33,-29,34,-26,32,-19,30,-33,27,-34,31,-24,33,-30,20,-32,
34,-30,27,-33,31,-22,34,-29,33,-31,18,-32]

DYA = [10,-13,8,-12,13,-6,11,-12,9,-13,12,-7,10,-13,11,-5,12,-10,8,-13,
12,-9,13,-11,6,-12,10,-13,11,-8,13,-10,7,-12,13,-9,11,-13,5,-11,
13,-17,20,-15,12,-10,14,-18,16,-12,9,-13,11,-8,12,-10,13,-7,11,-12,
9,-12,11,-6,13,-10,12,-13,8,-11,12,-5,10,-13,11,-9,12,-7,13,-10,
11,-13,7,-12,10,-11,13,-8,12,-10,6,-13,11,-12,9,-13,10,-6,12,-11,
8,-11,10,-7,11,-9,5,-10,11,-8,10,-11,7,-9,11,-10,6,-11,9,-8,
12,-10,11,-12,7,-11,12,-9,10,-12,6,-11,12,-10,8,-12,11,-7,12,-9,
10,-12,8,-11,12,-9,11,-6,12,-10,11,-12,7,-10,12,-11,9,-12,5,-11,
11,-9,12,-11,6,-12,10,-11,12,-8,11,-12,9,-6,12,-11,10,-12,7,-10,
12,-11,7,-12,11,-10,12,-9,5,-11,12,-10,11,-12,8,-11,12,-7,10,-12,
9,-11,10,-8,11,-6,10,-11,9,-10,11,-7,10,-11,5,-10,11,-9,10,-8,
11,-12,9,-11,12,-7,11,-10,12,-9,6,-12,11,-10,12,-8,10,-12,11,-6,
12,-9,11,-12,8,-11,12,-10,6,-12,11,-9,12,-11,7,-10,12,-11,9,-12,
10,-12,11,-7,12,-11,9,-12,10,-6,12,-11,8,-12,11,-10,12,-7,11,-9,
12,-10,8,-12,11,-9,12,-11,7,-12,10,-11,12,-6,11,-12,9,-10,12,-11,
11,-12,10,-9,12,-11,6,-12,11,-10,12,-8,11,-12,9,-11,12,-7,10,-12,
12,-13,9,-12,13,-11,8,-13,12,-10,13,-7,12,-13,11,-9,13,-12,10,-13,
13,-15,11,-14,15,-10,14,-15,12,-9,15,-14,13,-15,11,-13,15,-12,16,-18,
19,-22,17,-24,21,-26,28,-23,25,-19,27,-24,20,-26,22,-28,25,-21,27,-24,
28,-31,26,-33,37,-35,32,-29,34,-30,27,-32,29,-25,30,-27,24,-28,25,-22,
23,-20,24,-22,18,-24,21,-23,19,-16,22,-24,20,-21,24,-18,22,-20,23,-25,
24,-27,22,-26,28,-30,26,-29,24,-21,27,-23,20,-24,21,-18,19,-20,17,-16,
16,-14,15,-16,11,-15,14,-12,16,-13,9,-15,14,-12,13,-15,10,-14,15,-12,
13,-11,12,-13,8,-12,13,-10,11,-13,12,-7,13,-11,10,-13,12,-9,11,-13,
11,-12,9,-11,12,-7,11,-10,12,-9,6,-12,11,-10,12,-8,10,-12,11,-6,
12,-9,11,-12,8,-11,12,-10,6,-12,11,-9,12,-11,7,-10,12,-11,9,-12,
10,-12,11,-7,12,-11,9,-12,10,-6,12,-11,8,-12,11,-10,12,-7,11,-9,
12,-10,8,-12,11,-9,12,-11,7,-12,10,-11,12,-6,11,-12,9,-10,12,-11,
11,-12,10,-9,12,-11,6,-12,11,-10,12,-8,11,-12,9,-11,12,-7,10,-12,
9,-11,12,-10,11,-7,12,-11,10,-12,8,-11,12,-9,11,-12,6,-10,12,-11,
12,-10,11,-12,9,-11,12,-6,11,-12,10,-9,12,-11,7,-12,11,-10,12,-8,
11,-13,12,-15,17,-14,16,-12,13,-15,11,-13,12,-9,13,-12,10,-13,12,-11,
10,-12,11,-8,12,-11,9,-12,10,-7,12,-11,8,-12,11,-10,12,-6,11,-9,
12,-9,10,-12,11,-8,12,-11,6,-12,10,-11,12,-9,11,-12,7,-10,12,-11,
11,-12,9,-11,12,-10,7,-12,11,-9,12,-11,8,-12,10,-6,12,-11,9,-12,
10,-11,12,-9,11,-12,8,-11,12,-10,6,-12,11,-9,12,-11,10,-7,12,-10,
12,-10,11,-12,7,-11,12,-9,10,-12,11,-8,12,-11,9,-12,6,-11,12,-10,
11,-12,10,-13,14,-15,13,-12,11,-13,9,-12,11,-10,12,-8,11,-12,10,-11,
9,-12,11,-10,12,-7,11,-12,10,-9,12,-11,6,-12,11,-10,12,-8,11,-12,
12,-11,9,-12,11,-10,12,-7,11,-12,10,-9]

# 0.1 nm/s
HTL = [42,-68,55,-31,49,-58,27,-44,52,-36,47,-22,39,-51,45,-28,53,-40,34,-47,
38,-46,29,-50,44,-33,48,-21,41,-47,36,-49,25,-42,48,-35,30,-46,43,-27,
47,-35,52,-60,74,-88,66,-49,38,-54,62,-45,33,-51,46,-29,43,-50,37,-41,
44,-52,36,-48,55,-30,47,-51,40,-58,66,-71,88,-80,62,-45,39,-48,42,-35,
46,-38,51,-43,29,-47,56,-62,70,-85,99,-107,92,-74,58,-49,41,-46,35,-43,
43,-47,31,-45,48,-26,40,-46,44,-37,47,-23,42,-48,35,-44,47,-30,41,-45,
38,-44,46,-28,41,-45,33,-47,42,-24,45,-39,47,-32,40,-46,27,-43,46,-37,
45,-30,42,-47,36,-44,47,-25,41,-46,38,-43,29,-47,44,-35,46,-22,40,-45,
34,-46,43,-37,47,-27,40,-45,46,-33,42,-24,47,-41,36,-46,44,-29,45,-38,
46,-39,28,-45,42,-47,35,-43,46,-21,41,-44,37,-47,30,-42,45,-36,47,-26,
41,-45,47,-32,44,-38,46,-25,42,-47,36,-44,28,-45,47,-39,41,-23,46,-43,
37,-47,43,-29,46,-41,34,-45,47,-36,24,-43,46,-40,45,-31,38,-47,42,-27,
44,-36,47,-42,27,-45,40,-47,33,-44,46,-22,41,-45,39,-47,30,-43,46,-35,
29,-45,42,-38,47,-33,45,-24,40,-46,43,-37,47,-28,44,-41,36,-46,25,-43,
46,-40,35,-48,52,-44,31,-50,47,-55,42,-53,58,-47,39,-52,55,-61,66,-72,
80,-74,63,-56,48,-53,41,-50,46,-36,52,-44,29,-49,47,-41,53,-33,45,-48,
44,-49,37,-47,51,-30,45,-48,39,-52,43,-27,48,-45,36,-50,46,-33,49,-42,
47,-43,52,-35,48,-51,31,-46,53,-44,49,-38,55,-29,47,-52,42,-54,57,-60,
55,-62,68,-54,63,-70,58,-49,66,-72,61,-56,69,-64,74,-68,62,-77,80,-73,
78,-86,92,-84,97,-108,115,-102,122,-137,128,-110,98,-91,104,-95,88,-99,92,-85,
90,-82,94,-88,79,-93,86,-75,89,-84,72,-80,76,-68,81,-73,66,-75,70,-62,
68,-72,60,-66,70,-58,64,-69,55,-63,67,-52,60,-65,57,-61,49,-58,62,-55,
56,-60,48,-57,61,-44,55,-58,50,-53,58,-40,54,-57,47,-55,59,-43,51,-56,
52,-47,55,-50,41,-53,48,-55,36,-51,54,-46,50,-53,39,-49,55,-44,52,-48,
45,-49,38,-47,50,-32,44,-48,41,-50,46,-28,47,-44,37,-49,45,-34,48,-42,
47,-41,49,-35,44,-48,29,-46,42,-49,38,-45,47,-26,43,-48,40,-44,49,-31,
38,-47,44,-42,48,-27,45,-46,35,-48,41,-44,47,-32,42,-48,37,-45,46,-24,
46,-33,43,-48,39,-45,47,-28,41,-46,44,-37,48,-25,42,-47,36,-44,47,-39,
41,-46,29,-44,47,-40,36,-48,43,-31,45,-46,27,-42,48,-37,44,-45,33,-47,
47,-38,45,-47,32,-43,46,-41,48,-24,41,-46,39,-45,47,-30,43,-48,36,-42,
34,-45,47,-36,43,-48,28,-44,46,-40,48,-33,42,-46,37,-47,45,-26,41,-45,
48,-52,44,-55,58,-47,53,-42,56,-49,38,-51,54,-45,49,-36,52,-47,44,-50,
43,-47,36,-45,48,-29,44,-46,40,-48,32,-43,47,-38,45,-47,26,-42,46,-41,
45,-39,47,-43,31,-46,42,-48,37,-44,46,-27,43,-47,39,-45,48,-34,41,-46,
37,-46,44,-40,48,-30,45,-47,35,-43,47,-41,24,-45,46,-38,43,-47,32,-44,
46,-41,30,-47,43,-45,38,-48,44,-26,47,-42,39,-46,45,-33,41,-47,36,-45,
42,-47,45,-35,48,-43,29,-46,41,-44,47,-37,45,-31,43,-48,38,-45,47,-28,
44,-49,53,-61,72,-87,80,-66,55,-48,51,-43,47,-39,45,-50,41,-46,48,-36,
43,-46,38,-48,45,-30,47,-44,40,-47,34,-45,48,-41,46,-27,42,-47,44,-39,
47,-42,35,-46,44,-48,31,-45,47,-40,43,-46]

TRACES = [R0B29, R92ED, REE00, CCA1, R7FA5, SDF0E, R0353, RA2AC, RD232, DYA, HTL]
TRACE_UNITS = [1e-9, 1e-9, 1e-9, 1e-9, 1e-9, 1e-9, 1e-9, 1e-9, 1e-9, 1e-9, 1e-10]  # m/s per listed unit

# axis limits (nm/s) and y tick step (nm/s) for each panel
Y_LIMITS_NM = [(-94.5, 96.4), (-63.5, 65.7), (-66.2, 68.4), (-54.1, 54.6), (-129, 130),
               (-137, 145), (-121, 127), (-80.4, 84.3), (-185, 191), (-62.1, 65.2), (-21.1, 21.6)]
Y_TICK_STEP_NM = [50, 50, 50, 50, 100, 100, 100, 50, 100, 50, 20]

PHASE_NAMES = ["Pdiff", "PKIKP", "PKiKP", "PKP", "PKP"]
PHASE_COLORS = ["255,127,14", "31,119,180", "214,39,40", "44,160,44", "44,160,44"]
PHASE_TIMES = [
    [1066.3, 1188.6, 1198.3, 1198.2, 1213.9],
    [1056.5, 1185.4, 1193.6, 1193.4, 1204.5],
    [1056.5, 1185.4, 1193.5, 1193.3, 1204.3],
    [1056.4, 1185.3, 1193.4, 1193.2, 1204.1],
    [1056.0, 1185.2, 1193.3, 1193.1, 1203.8],
    [1056.0, 1185.2, 1193.3, 1193.1, 1203.8],
    [1055.9, 1185.1, 1193.2, 1193.0, 1203.6],
    [1055.5, 1184.9, 1193.0, 1192.8, 1203.2],
    [1055.3, 1184.8, 1192.8, 1192.6, 1203.0],
    [1054.8, 1184.6, 1192.6, 1192.3, 1202.5],
    [1052.6, 1184.0, 1191.6, 1191.2, 1199.9],
]

X_TICKS = [1050, 1100, 1150, 1200, 1250, 1300, 1350, 1400]
X_RANGE = [1031.3, 1426.5]

TITLE_LINES = ["M5.4 southeast of the Loyalty Islands 2023-05-19 04:09:23.319000",
               "from the Raspberry Shake Network",
               "depth: 34.456 km, distance: 17015.0 km."]
FOOTER = 'Channel: EHZ, filter: "bandpass", freqmin=1.3, freqmax=2.3, corners=4'

# ---------------- figure ----------------
FONT = "DejaVu Sans"
PAGE_OFF = 8                       # default body margin of the html page
W, H = 1900 - PAGE_OFF, 1100 - PAGE_OFF
ML, MT = 152 - PAGE_OFF, 88 - PAGE_OFF
PW, PH = 1672, 924
MR, MB = W - ML - PW, H - MT - PH
NROWS = len(STATIONS)


def px_x(px):
    return (px - PAGE_OFF - ML) / PW


def px_y(py):
    return (MT + PH - (py - PAGE_OFF)) / PH


fig = make_subplots(rows=NROWS, cols=1, shared_xaxes=True, vertical_spacing=0)

for i, vals in enumerate(TRACES):
    r = i + 1
    v = np.asarray(vals, dtype=float) * TRACE_UNITS[i]
    t = T_START + DT * np.arange(len(v))
    fig.add_trace(go.Scatter(x=t, y=v, mode="lines", line=dict(color="#1f77b4", width=1),
                             hoverinfo="skip", showlegend=False), row=r, col=1)

    step = Y_TICK_STEP_NM[i] * 1e-9
    tv = [step, 0.0, -step]
    fig.update_yaxes(row=r, col=1, range=[Y_LIMITS_NM[i][0] * 1e-9, Y_LIMITS_NM[i][1] * 1e-9],
                     tickvals=tv, ticktext=[f"{x:.1e}" for x in tv],
                     ticks="outside", ticklen=4, tickwidth=1, tickcolor="black",
                     showline=True, linecolor="black", linewidth=1.2, mirror=True,
                     showgrid=False, zeroline=False,
                     tickfont=dict(family=FONT, size=14, color="black"))
    fig.update_xaxes(row=r, col=1, range=X_RANGE, tickvals=X_TICKS,
                     ticks="inside", ticklen=6, tickwidth=1, tickcolor="black",
                     showline=True, linecolor="black", linewidth=1.2, mirror="ticks",
                     showgrid=False, zeroline=False, showticklabels=(r == NROWS),
                     tickfont=dict(family=FONT, size=14, color="black"))

    xref = "x" if r == 1 else f"x{r}"
    yref = "y" if r == 1 else f"y{r}"

    fig.add_annotation(text=STATIONS[i], xref=f"{xref} domain", yref=f"{yref} domain",
                       x=0, y=1, xanchor="left", yanchor="top", xshift=14, yshift=1,
                       showarrow=False, font=dict(family=FONT, size=14, color="black"))

    for name, col, tp in zip(PHASE_NAMES, PHASE_COLORS, PHASE_TIMES[i]):
        fig.add_shape(type="line", xref=xref, yref=f"{yref} domain", x0=tp, x1=tp, y0=0, y1=1,
                      line=dict(color=f"rgba({col},0.6)", width=2, dash="7px,3px"))
        fig.add_annotation(text=name, xref=xref, yref=f"{yref} domain", x=tp, y=0,
                           xanchor="right", yanchor="bottom", xshift=-2, yshift=-3,
                           showarrow=False, font=dict(family=FONT, size=16, color=f"rgba({col},0.5)"))

for line, ypix in zip(TITLE_LINES, [17, 33.3, 49.3]):
    fig.add_annotation(text=line, xref="paper", yref="paper", x=px_x(950), y=px_y(ypix),
                       xanchor="center", yanchor="middle", showarrow=False,
                       font=dict(family=FONT, size=14, color="black"))

fig.add_annotation(text=FOOTER, xref="paper", yref="paper", x=px_x(19), y=px_y(1081),
                   xanchor="left", yanchor="middle", showarrow=False,
                   font=dict(family=FONT, size=14, color="black"))
fig.add_annotation(text="Time since earthquake [s]", xref="paper", yref="paper",
                   x=px_x(950), y=px_y(1081), xanchor="center", yanchor="middle", showarrow=False,
                   font=dict(family=FONT, size=14, color="black"))
fig.add_annotation(text="Velocity [m/s]", xref="paper", yref="paper", x=px_x(17), y=px_y(556),
                   xanchor="center", yanchor="middle", textangle=-90, showarrow=False,
                   font=dict(family=FONT, size=14, color="black"))

fig.update_layout(width=W, height=H, autosize=False,
                  margin=dict(l=ML, r=MR, t=MT, b=MB),
                  plot_bgcolor="white", paper_bgcolor="white",
                  font=dict(family=FONT, size=14, color="black"),
                  showlegend=False)

fig.write_html("out.html", config={"displayModeBar": False})
